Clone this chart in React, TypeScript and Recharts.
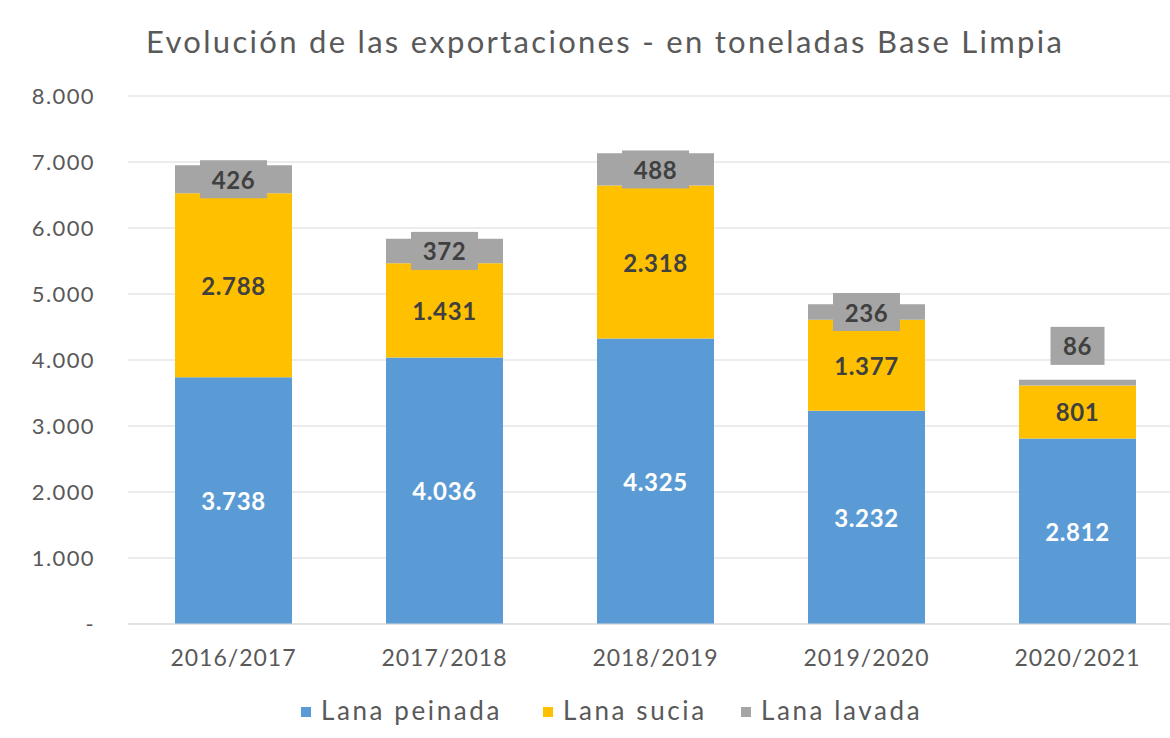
import React from 'react';
import { BarChart, Bar, XAxis, YAxis, CartesianGrid, LabelList } from 'recharts';

const categories = ['2016/2017', '2017/2018', '2018/2019', '2019/2020', '2020/2021'];
const lanaPeinada = [3738, 4036, 4325, 3232, 2812];
const lanaSucia = [2788, 1431, 2318, 1377, 801];
const lanaLavada = [426, 372, 488, 236, 86];
const yTicks = [0, 1000, 2000, 3000, 4000, 5000, 6000, 7000, 8000];

const seriesNames = ['Lana peinada', 'Lana sucia', 'Lana lavada'];
const seriesColors = ['#5B9BD5', '#FFC000', '#A5A5A5'];
const legendLefts = [301, 543, 741];

const data = categories.map((c, i) => ({
  cat: c,
  peinada: lanaPeinada[i],
  sucia: lanaSucia[i],
  lavada: lanaLavada[i],
}));

const FONT = 'Lato, "Open Sans", sans-serif';

const fmt = (v: number) => (v === 0 ? '-' : String(v).replace(/\B(?=(\d{3})+(?!\d))/g, '.'));

const CenterLabel = (color: string) => (props: any) => {
  const { x, y, width, height, value } = props;
  return (
    <text
      x={Number(x) + Number(width) / 2}
      y={Number(y) + Number(height) / 2}
      textAnchor="middle"
      dominantBaseline="central"
      fill={color}
      fontFamily={FONT}
      fontWeight={700}
      fontSize={24}
      letterSpacing={0.6}
    >
      {fmt(Number(value))}
    </text>
  );
};

const GrayLabel = (props: any) => {
  const { x, y, width, height, value } = props;
  const text = fmt(Number(value));
  const w = text.length * 13 + 28;
  const h = 38;
  const cx = Number(x) + Number(width) / 2;
  let cy = Number(y) + Number(height) / 2;
  if (Math.abs(Number(height)) < 10) cy = Number(y) - 15 - h / 2;
  return (
    <g>
      <rect x={cx - w / 2} y={cy - h / 2} width={w} height={h} fill="#A5A5A5" />
      <text
        x={cx}
        y={cy}
        textAnchor="middle"
        dominantBaseline="central"
        fill="#404040"
        fontFamily={FONT}
        fontWeight={700}
        fontSize={24}
        letterSpacing={0.6}
      >
        {text}
      </text>
    </g>
  );
};

export default function App() {
  return (
    <div
      style={{
        position: 'fixed',
        left: 0,
        top: 0,
        width: 1170,
        height: 738,
        overflow: 'hidden',
        background: '#fff',
      }}
    >
      <div
        style={{
          position: 'absolute',
          left: 146,
          top: 22,
          whiteSpace: 'nowrap',
          fontFamily: FONT,
          fontSize: 31,
          color: '#595959',
          letterSpacing: 2.3,
        }}
      >
        Evolución de las exportaciones - en toneladas Base Limpia
      </div>
      <BarChart
        width={1185}
        height={738}
        data={data}
        margin={{ top: 96, right: 2, bottom: 84, left: 0 }}
        barSize={117}
      >
        <CartesianGrid vertical={false} stroke="#D9D9D9" />
        <XAxis
          dataKey="cat"
          height={30}
          axisLine={{ stroke: '#D9D9D9' }}
          tickLine={false}
          tickMargin={20}
          tick={{ fontSize: 23, fill: '#595959', fontFamily: FONT, letterSpacing: 1 }}
        />
        <YAxis
          width={128}
          domain={[0, 8000]}
          ticks={yTicks}
          axisLine={false}
          tickLine={false}
          tickSize={0}
          tickMargin={33}
          tickFormatter={(v: number) => fmt(v)}
          tick={{ fontSize: 22, fill: '#595959', fontFamily: FONT, letterSpacing: 1.4 }}
        />
        <Bar dataKey="peinada" name={seriesNames[0]} stackId="a" fill={seriesColors[0]} isAnimationActive={false}>
          <LabelList dataKey="peinada" content={CenterLabel('#FFFFFF')} />
        </Bar>
        <Bar dataKey="sucia" name={seriesNames[1]} stackId="a" fill={seriesColors[1]} isAnimationActive={false}>
          <LabelList dataKey="sucia" content={CenterLabel('#404040')} />
        </Bar>
        <Bar dataKey="lavada" name={seriesNames[2]} stackId="a" fill={seriesColors[2]} isAnimationActive={false}>
          <LabelList dataKey="lavada" content={GrayLabel} />
        </Bar>
      </BarChart>
      {seriesNames.map((n, i) => (
        <div
          key={n}
          style={{
            position: 'absolute',
            left: legendLefts[i],
            top: 694,
            display: 'flex',
            alignItems: 'center',
            fontFamily: FONT,
            fontSize: 26,
            letterSpacing: 2.6,
            color: '#595959',
            whiteSpace: 'nowrap',
          }}
        >
          <span
            style={{ display: 'inline-block', width: 10, height: 10, background: seriesColors[i], marginRight: 10, marginTop: 4 }}
          />
          <span>{n}</span>
        </div>
      ))}
    </div>
  );
}
